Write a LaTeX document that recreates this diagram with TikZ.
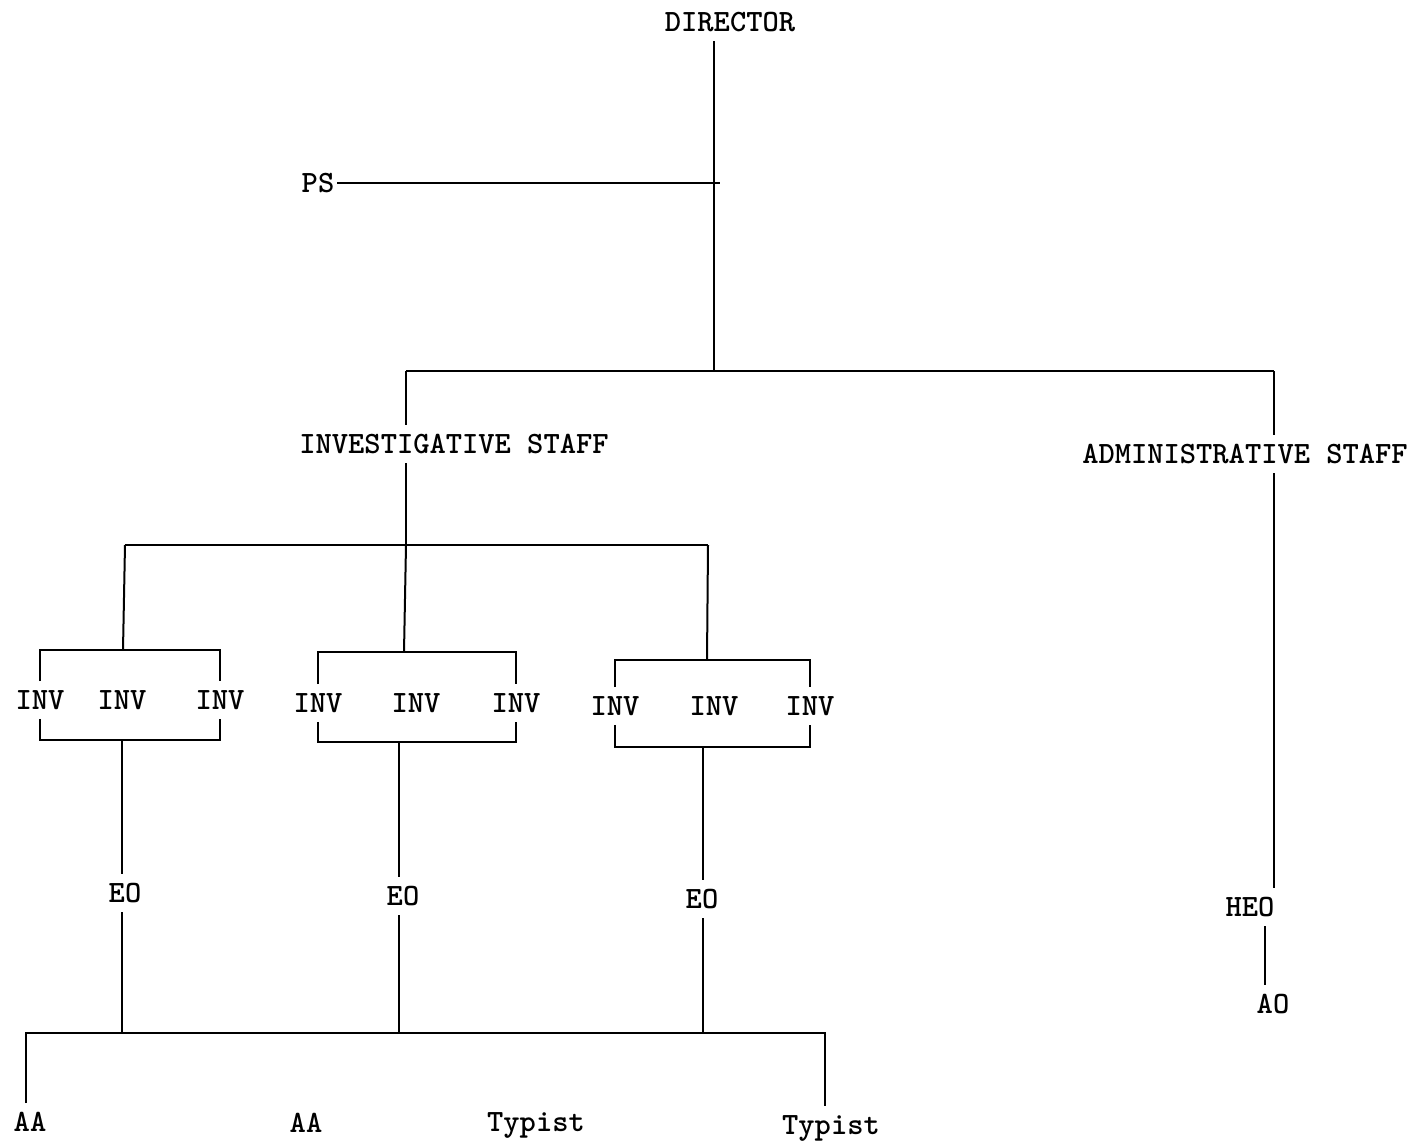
\documentclass[tikz,border=0pt]{standalone}
\usepackage{fontspec}
\newfontfamily\typer{lmmonolt10-bold.otf}
\begin{document}
\begin{tikzpicture}[x=1pt,y=-1pt,
	post/.style={ font=\typer\fontsize{31}{34}\selectfont, inner xsep=3pt, inner ysep=9pt },
	link/.style={ line width=2pt }
]
\useasboundingbox (0,0) rectangle (1416,1144);

% posts
\node at (730,22) (dir) [post] {DIRECTOR};
\node at (318,183) (ps) [post] {PS};
\node at (454,444) (inv) [post] {INVESTIGATIVE STAFF};
\node at (1245,454) (adm) [post] {ADMINISTRATIVE STAFF};
\node at (40,700) (i11) [post] {INV};
\node at (122,700) (i12) [post] {INV};
\node at (220,700) (i13) [post] {INV};
\node at (318,703) (i21) [post] {INV};
\node at (416,703) (i22) [post] {INV};
\node at (516,703) (i23) [post] {INV};
\node at (615,706) (i31) [post] {INV};
\node at (714,706) (i32) [post] {INV};
\node at (810,706) (i33) [post] {INV};
\node at (125,893) (eo1) [post] {EO};
\node at (403,896) (eo2) [post] {EO};
\node at (702,899) (eo3) [post] {EO};
\node at (1250,907) (heo) [post] {HEO};
\node at (1273,1004) (ao) [post] {AO};
\node at (30,1122) (aa1) [post] {AA};
\node at (306,1123) (aa2) [post] {AA};
\node at (536,1125) (ty1) [post] {Typist};
\node at (831,1128) (ty2) [post] {Typist};

% junctions
\coordinate (top) at (714,371);
\coordinate (lb) at (406,371);
\coordinate (rb) at (1274,371);
\coordinate (ib) at (406,545);
\coordinate (ibl) at (125,545);
\coordinate (ibr) at (708,545);
\coordinate (g1t) at (123,650);
\coordinate (g2t) at (404,652);
\coordinate (g3t) at (707,660);
\coordinate (g1b) at (122,740);
\coordinate (g2b) at (399,742);
\coordinate (g3b) at (703,747);
\coordinate (bbl) at (26,1033);
\coordinate (bbr) at (825,1036);

\draw[link] (dir.south -| top) -- (top);
\draw[link] (ps.east) -- ([xshift=6pt]ps.east -| top);
\draw[link] (lb) -- (lb |- inv.north);
\draw[link] (lb) -- (rb);
\draw[link] (rb) -- (rb |- adm.north);
\draw[link] (lb |- inv.south) -- (ib);
\draw[link] (ibl) -- (ibr);
\draw[link] (ibl) -- (g1t);
\draw[link] (ib) -- (g2t);
\draw[link] (ibr) -- (g3t);

\draw[link] (i11.north) |- (g1t) -| (i13.north);
\draw[link] (i11.south) |- (g1b) -| (i13.south);
\draw[link] (i21.north) |- (g2t) -| (i23.north);
\draw[link] (i21.south) |- (g2b) -| (i23.south);
\draw[link] (i31.north) |- (g3t) -| (i33.north);
\draw[link] (i31.south) |- (g3b) -| (i33.south);

\draw[link] (g1b) -- (g1b |- eo1.north);
\draw[link] (g2b) -- (g2b |- eo2.north);
\draw[link] (g3b) -- (g3b |- eo3.north);
\draw[link] (eo1.south -| g1b) -- (g1b |- bbl);
\draw[link] (eo2.south -| g2b) -- (g2b |- bbl);
\draw[link] (eo3.south -| g3b) -- (g3b |- bbl);

\draw[link] (bbl |- aa1.north) -- (bbl) -- (bbr |- bbl) -- (bbr |- ty2.north);

\draw[link] (rb |- adm.south) -- (rb |- heo.north);
\draw[link] ([xshift=-8pt]ao.north) -- ([xshift=-8pt]ao.north |- heo.south);

\end{tikzpicture}
\end{document}
